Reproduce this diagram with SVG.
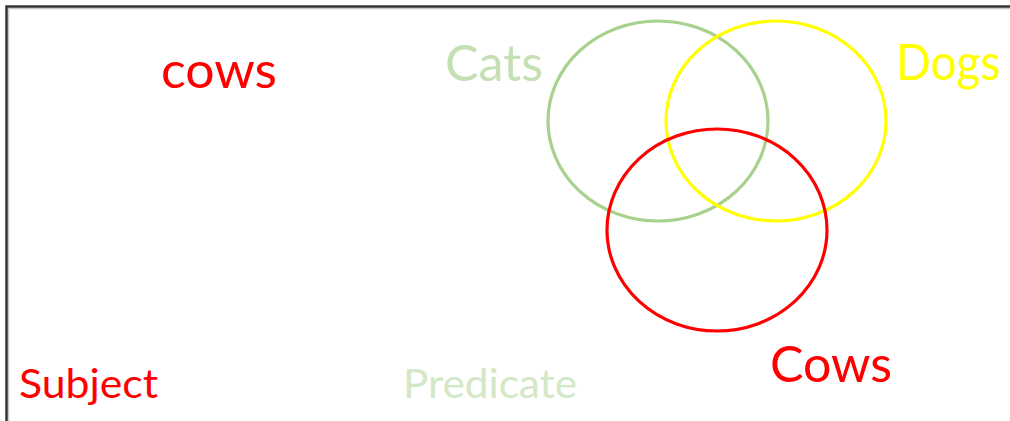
<svg xmlns="http://www.w3.org/2000/svg" width="1010" height="421" viewBox="0 0 1010 421">
<style>
text{font-family:Lato,"Liberation Sans",sans-serif}
.big{font-size:51px}
.small{font-size:40px}
.red{fill:#ff0000}
.ring{fill:none;stroke-width:3.2}
</style>
<rect x="0" y="0" width="1010" height="421" fill="#ffffff"/>
<g id="frame">
<path d="M8.5 421 V8.5 H1010" fill="none" stroke="#c8c8c8" stroke-width="1.5"/>
<path d="M6.5 421 V6.5 H1010" fill="none" stroke="#333333" stroke-width="2.5"/>
</g>
<g id="cats">
<ellipse class="ring" cx="658" cy="121" rx="110" ry="100" stroke="#a9d18e"/>
<text x="445" y="81" class="big" fill="#c5e0b4" textLength="98" lengthAdjust="spacingAndGlyphs">Cats</text>
</g>
<g id="dogs">
<ellipse class="ring" cx="776" cy="121" rx="110" ry="100" stroke="#ffff00"/>
<text x="896" y="80" class="big" fill="#ffff00" textLength="104" lengthAdjust="spacingAndGlyphs">Dogs</text>
</g>
<g id="cows-circle">
<ellipse class="ring" cx="717" cy="230" rx="110" ry="101" stroke="#ff0000"/>
<text x="770" y="382" class="big red" textLength="122" lengthAdjust="spacingAndGlyphs">Cows</text>
</g>
<g id="cows-term">
<text x="161" y="88" class="big red" textLength="116" lengthAdjust="spacingAndGlyphs">cows</text>
</g>
<g id="subject">
<text x="19" y="398" class="small red" textLength="139" lengthAdjust="spacingAndGlyphs">Subject</text>
</g>
<g id="predicate">
<text x="403" y="398" class="small" fill="#d3e8c6" textLength="174" lengthAdjust="spacingAndGlyphs">Predicate</text>
</g>
<g id="connectors"/>
</svg>
